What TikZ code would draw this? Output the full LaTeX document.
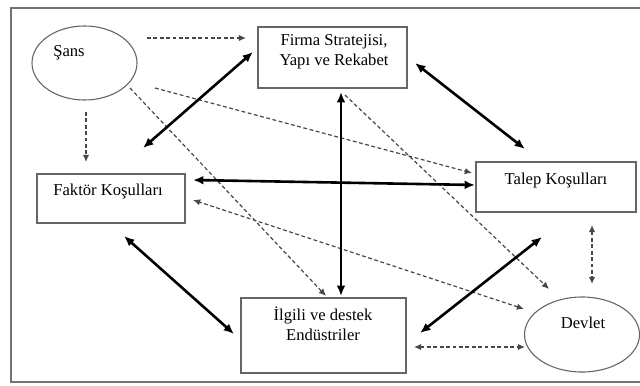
\documentclass[tikz,border=0pt]{standalone}
\usepackage{fontspec}
\setmainfont{Liberation Serif}
\usetikzlibrary{arrows.meta,shapes.geometric}
\begin{document}
\begin{tikzpicture}[x=0.5pt,y=-0.5pt,
  box/.style={draw=black!60,line width=0.55pt,rectangle,inner sep=0pt},
  oval/.style={draw=black!60,line width=0.55pt,ellipse,inner sep=0pt},
  lbl/.style={font=\fontsize{8.3}{10}\selectfont,align=center,inner sep=0pt},
  strong/.style={line width=1.3pt,{Latex[length=5.2pt,width=4.4pt]}-{Latex[length=5.2pt,width=4.4pt]}},
  weak/.style={draw=black!72,line width=0.6pt,dash pattern=on 1.9pt off 1.3pt,-{Latex[length=3.6pt,width=3.2pt]}},
  weakboth/.style={weak,{Latex[length=3.6pt,width=3.2pt]}-{Latex[length=3.6pt,width=3.2pt]}}]
\useasboundingbox (0,0) rectangle (640,385);
\draw[draw=black!55,line width=0.7pt] (11,8) rectangle (660,382);
% nodes
\node[oval,minimum width=52.5pt,minimum height=37pt] (sans) at (84.5,63) {};
\node[lbl] (sanst) at (69,53) {Şans};
\node[box,minimum width=74.5pt,minimum height=30.5pt] (firma) at (332.5,57.5) {};
\node[lbl] (firmat) at (334,52) {Firma Stratejisi,\\Yapı ve Rekabet};
\node[box,minimum width=74pt,minimum height=24.5pt] (faktor) at (111,198.5) {};
\node[lbl] (faktort) at (108,192) {Faktör Koşulları};
\node[box,minimum width=80pt,minimum height=25pt] (talep) at (556,187) {};
\node[lbl] (talept) at (556,181) {Talep Koşulları};
\node[box,minimum width=82.5pt,minimum height=37.5pt] (ilgili) at (323.5,335.5) {};
\node[lbl] (ilgilit) at (323,324) {İlgili ve destek\\Endüstriler};
\node[oval,minimum width=57.5pt,minimum height=37.5pt] (devlet) at (582,334.5) {};
\node[lbl] (devlett) at (583,323) {Devlet};
% connector ends
\coordinate (a1) at (147,38);  \coordinate (b1) at (246,38);
\coordinate (a2) at (86,112);  \coordinate (b2) at (86,162);
\coordinate (a3) at (253,52);  \coordinate (b3) at (143,148);
\coordinate (a4) at (415,63);  \coordinate (b4) at (525,149);
\coordinate (a5) at (193,180); \coordinate (b5) at (475,185);
\coordinate (a6) at (341,92);  \coordinate (b6) at (341,296);
\coordinate (a7) at (155,88);  \coordinate (b7) at (472,173);
\coordinate (a8) at (130,88);  \coordinate (b8) at (326,296);
\coordinate (a9) at (345,95);  \coordinate (b9) at (549,289);
\coordinate (a10) at (524,309); \coordinate (b10) at (193,200);
\coordinate (a11) at (542,237); \coordinate (b11) at (420,333);
\coordinate (a12) at (592,225); \coordinate (b12) at (592,284);
\coordinate (a13) at (414,347); \coordinate (b13) at (525,347);
\coordinate (a14) at (124,236); \coordinate (b14) at (234,334);
% dashed
\draw[weak] (a1) -- (b1);
\draw[weak] (a2) -- (b2);
\draw[weak] (a7) -- (b7);
\draw[weak] (a8) -- (b8);
\draw[weak] (a9) -- (b9);
\draw[weakboth] (a10) -- (b10);
\draw[weakboth] (a12) -- (b12);
\draw[weakboth] (a13) -- (b13);
% thick
\draw[strong] (a3) -- (b3);
\draw[strong] (a4) -- (b4);
\draw[strong] (a5) -- (b5);
\draw[strong] (a6) -- (b6);
\draw[strong] (a11) -- (b11);
\draw[strong] (a14) -- (b14);
\end{tikzpicture}
\end{document}
